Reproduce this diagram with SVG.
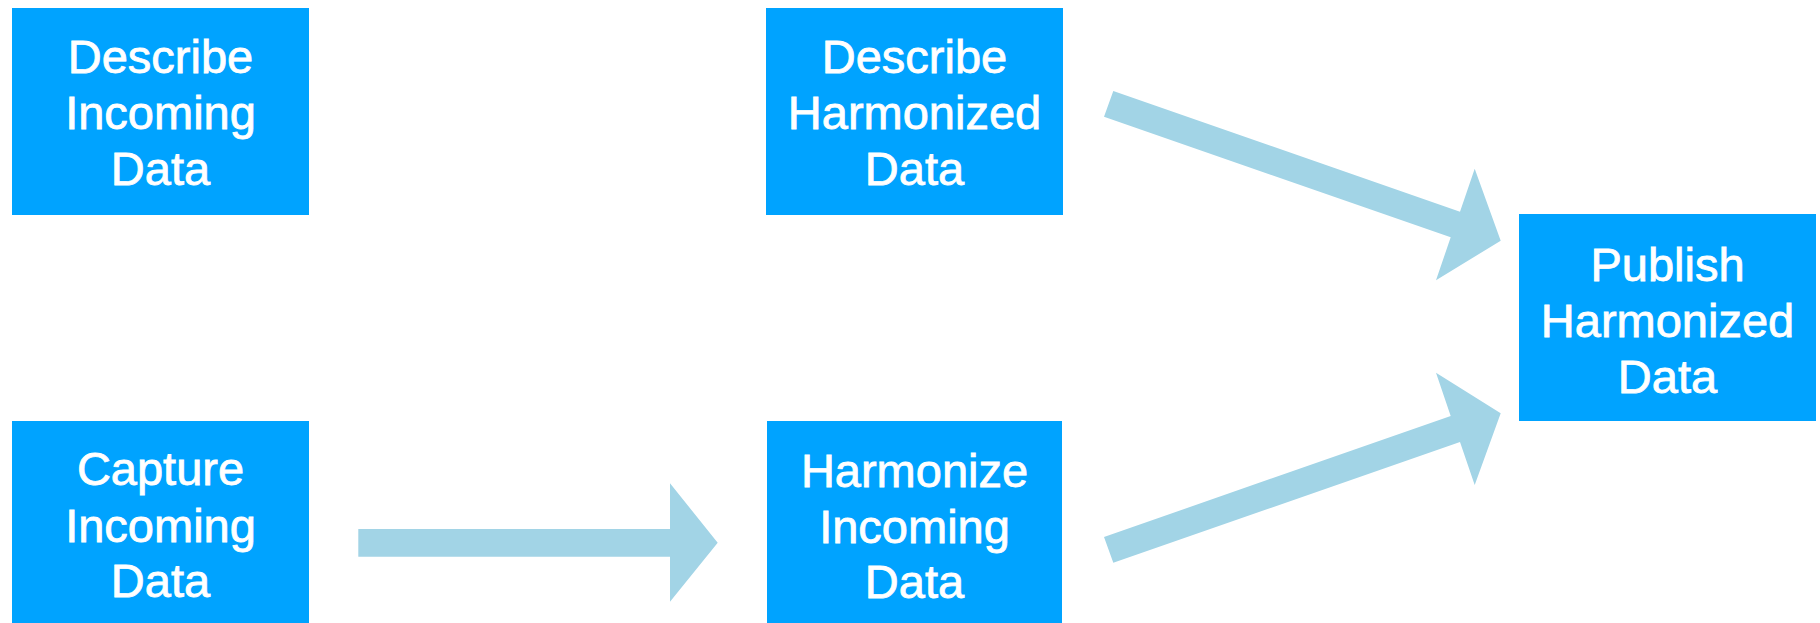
<svg xmlns="http://www.w3.org/2000/svg" width="1820" height="623" viewBox="0 0 1820 623">
<style>
.box{fill:#00A3FF}
.lbl{fill:#FFFFFF;stroke:#FFFFFF;stroke-width:0.8px;font-family:"Liberation Sans",Arial,sans-serif;font-size:47px;text-anchor:middle}
.arr{fill:#A2D4E6}
</style>
<rect width="1820" height="623" fill="#FFFFFF"/>
<g id="connectors">
<polygon class="arr" points="358.3,529 670,529 670,483.3 717.7,542.7 670,601.7 670,556.7 358.3,556.7"/>
<polygon class="arr" points="1113.3,91 1460,211.7 1474.7,168.7 1500.7,240.7 1436,280.3 1450.7,237.3 1104,116.7"/>
<polygon class="arr" points="1104,537 1450.7,416 1436,372.7 1500.7,413.3 1474.7,485 1460,442 1113.3,562.7"/>
</g>
<g id="describe-incoming">
<rect class="box" x="12" y="8" width="297" height="207"/>
<text class="lbl"><tspan x="160.5" y="73">Describe</tspan><tspan x="160.5" y="129">Incoming</tspan><tspan x="160.5" y="185">Data</tspan></text>
</g>
<g id="describe-harmonized">
<rect class="box" x="766" y="8" width="297" height="207"/>
<text class="lbl"><tspan x="914.5" y="73">Describe</tspan><tspan x="914.5" y="129">Harmonized</tspan><tspan x="914.5" y="185">Data</tspan></text>
</g>
<g id="publish-harmonized">
<rect class="box" x="1519" y="214" width="297" height="207"/>
<text class="lbl"><tspan x="1667.5" y="281">Publish</tspan><tspan x="1667.5" y="337">Harmonized</tspan><tspan x="1667.5" y="393">Data</tspan></text>
</g>
<g id="capture-incoming">
<rect class="box" x="12" y="421" width="297" height="202"/>
<text class="lbl"><tspan x="160.5" y="485">Capture</tspan><tspan x="160.5" y="542">Incoming</tspan><tspan x="160.5" y="597">Data</tspan></text>
</g>
<g id="harmonize-incoming">
<rect class="box" x="767" y="421" width="295" height="202"/>
<text class="lbl"><tspan x="914.5" y="487">Harmonize</tspan><tspan x="914.5" y="543">Incoming</tspan><tspan x="914.5" y="598">Data</tspan></text>
</g>
</svg>
